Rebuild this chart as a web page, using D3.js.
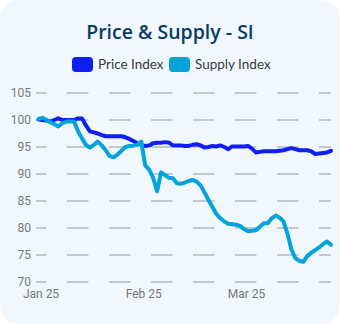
<!DOCTYPE html>
<html>
<head>
<meta charset="utf-8">
<script src="https://cdn.jsdelivr.net/npm/d3@7"></script>
<style>
  html, body { margin: 0; padding: 0; background: #ffffff; }
  .chart { width: 340px; height: 324px; }
</style>
</head>
<body>
<div class="chart"></div>
<script>
const title = "Price & Supply - SI";
const seriesNames = ["Price Index", "Supply Index"];

const priceIndex = [
  100.1, 100.0, 99.9, 99.7, 100.0, 100.3, 100.0, 100.0, 100.0, 100.0,
  100.3, 100.3, 99.0, 97.9, 97.7, 97.5, 97.2, 97.0, 97.0, 97.0,
  97.0, 97.0, 96.8, 96.5, 96.1, 95.7, 95.4, 95.2, 95.3, 95.7,
  95.8, 95.8, 95.9, 95.8, 95.3, 95.3, 95.3, 95.2, 95.2, 95.4,
  95.5, 95.3, 94.9, 95.0, 95.2, 95.1, 95.3, 95.0, 94.6, 95.1,
  95.1, 95.1, 95.1, 95.2, 94.7, 94.0, 94.1, 94.2, 94.2, 94.2,
  94.2, 94.3, 94.4, 94.6, 94.8, 94.6, 94.4, 94.4, 94.4, 94.2,
  93.7, 93.8, 93.9, 94.0, 94.3
];

const supplyIndex = [
  100.2, 100.4, 100.0, 99.6, 99.2, 98.8, 99.4, 99.7, 99.7, 99.7,
  97.9, 96.6, 95.4, 94.9, 95.4, 96.0, 95.3, 94.4, 93.3, 93.1,
  93.6, 94.3, 95.0, 95.2, 95.25, 95.4, 96.0, 91.6, 90.8, 89.3,
  86.8, 90.3, 89.8, 89.3, 89.2, 88.3, 88.2, 88.4, 88.7, 88.9,
  88.6, 87.9, 86.6, 85.2, 83.9, 82.6, 81.8, 81.2, 80.8, 80.7,
  80.6, 80.4, 79.8, 79.4, 79.5, 79.6, 80.2, 80.9, 80.9, 81.8,
  82.3, 81.9, 81.2, 78.9, 76.0, 74.4, 73.9, 73.75, 74.8, 75.4,
  75.9, 76.4, 77.0, 77.5, 76.9
];

const tickLabels = ["Jan 25", "Feb 25", "Mar 25"];
const tickAt = [0, 26, 52];
const yTicks = [70, 75, 80, 85, 90, 95, 100, 105];

const W = 340, H = 324;
const colors = ["#0f1ef2", "#03a3dc"];

const svg = d3.select(".chart")
  .append("svg")
  .attr("width", W)
  .attr("height", H);

// card
svg.append("rect")
  .attr("width", W)
  .attr("height", H)
  .attr("rx", 20)
  .attr("fill", "#f0f8fe");

svg.append("text")
  .attr("x", W / 2)
  .attr("y", 39)
  .attr("text-anchor", "middle")
  .attr("fill", "#0b3a64")
  .style("font-family", "'Open Sans', sans-serif")
  .style("font-weight", "600")
  .style("font-size", "19.5px")
  .text(title);

// legend
const legendX = [72, 169];
const legend = svg.selectAll("g.legend")
  .data(seriesNames)
  .enter()
  .append("g")
  .attr("class", "legend")
  .attr("transform", (d, i) => `translate(${legendX[i]}, 57)`);

legend.append("rect")
  .attr("width", 21)
  .attr("height", 15)
  .attr("rx", 4)
  .attr("fill", (d, i) => colors[i]);

legend.append("text")
  .attr("x", 26)
  .attr("y", 12)
  .attr("fill", "#3a3a3a")
  .style("font-family", "Lato, sans-serif")
  .style("font-size", "13.5px")
  .text(d => d);

const n = priceIndex.length;
const x = d3.scaleLinear().domain([0, n - 1]).range([38.5, 331]);
const y = d3.scaleLinear().domain([70, 105]).range([282, 93]);

// grid
svg.append("g")
  .selectAll("line")
  .data(yTicks)
  .enter()
  .append("line")
  .attr("x1", 36)
  .attr("x2", 331)
  .attr("y1", d => y(d))
  .attr("y2", d => y(d))
  .attr("stroke", "#b4b8bb")
  .attr("stroke-width", 1.3)
  .attr("stroke-dasharray", "21.5 20.5")
  .attr("stroke-dashoffset", 11);

// y axis
const yAxis = svg.append("g")
  .attr("transform", "translate(31, 0)")
  .call(d3.axisLeft(y).tickValues(yTicks).tickSize(0).tickPadding(0));
yAxis.select(".domain").remove();
yAxis.selectAll("text")
  .attr("fill", "#777")
  .style("font-family", "Roboto, sans-serif")
  .style("font-size", "12px");

// x axis
const xAxis = svg.append("g")
  .attr("transform", "translate(2, 289)")
  .call(d3.axisBottom(x).tickValues(tickAt).tickFormat((d, i) => tickLabels[i]).tickSize(0).tickPadding(0));
xAxis.select(".domain").remove();
xAxis.selectAll("text")
  .attr("fill", "#777")
  .style("font-family", "Roboto, sans-serif")
  .style("font-size", "12px");

const line = d3.line()
  .x((d, i) => x(i))
  .y(d => y(d));

svg.selectAll("path.series")
  .data([priceIndex, supplyIndex])
  .enter()
  .append("path")
  .attr("class", "series")
  .attr("d", line)
  .attr("fill", "none")
  .attr("stroke", (d, i) => colors[i])
  .attr("stroke-width", 4)
  .attr("stroke-linejoin", "round")
  .attr("stroke-linecap", "round");
</script>
</body>
</html>
